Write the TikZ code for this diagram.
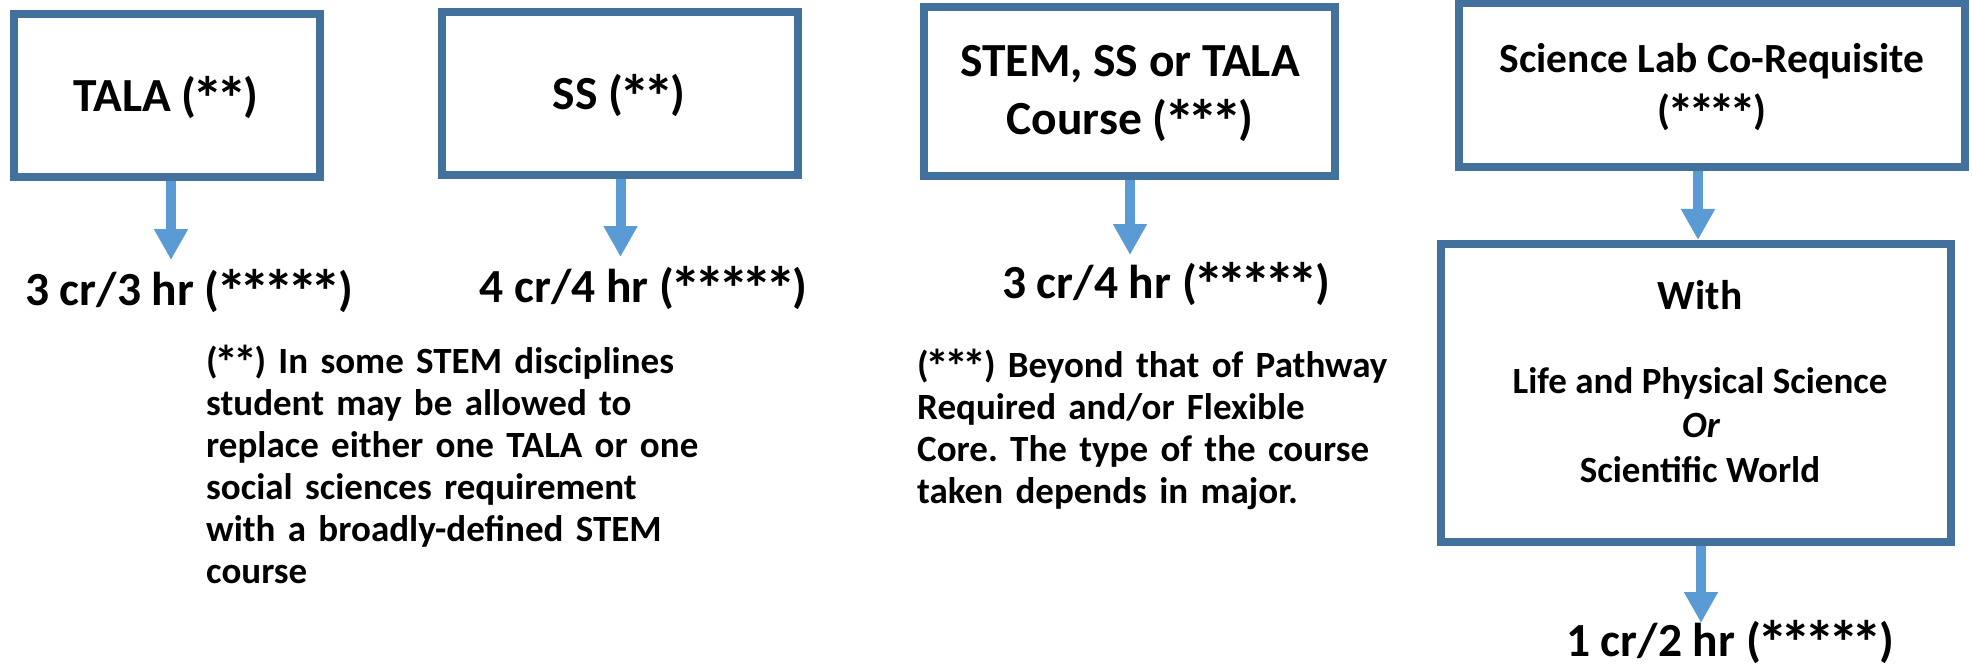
\documentclass[tikz,border=0pt]{standalone}
\usepackage{fontspec}
\usepackage{graphicx}
\setmainfont{Carlito}
\usetikzlibrary{arrows.meta}
\definecolor{boxblue}{HTML}{41719C}
\definecolor{arrowblue}{HTML}{5B9BD5}
\newcommand{\sk}{\makebox[0.498em]{\raisebox{-0.17em}{\scalebox{1.3}{*}}}}
\frenchspacing
\begin{document}
\begin{tikzpicture}[x=1pt,y=-1pt,
  boxshape/.style={draw=boxblue, line width=8pt, fill=white, inner sep=0pt},
  bigtxt/.style={font=\fontsize{47.5}{58}\selectfont\bfseries, inner sep=0pt, anchor=base},
  midtxt/.style={font=\fontsize{41.5}{52}\selectfont\bfseries, inner sep=0pt, anchor=base},
  smalltxt/.style={font=\fontsize{37}{42}\selectfont\bfseries, inner sep=0pt, anchor=base},
  notetxt/.style={font=\fontsize{37}{42}\selectfont\bfseries, inner sep=0pt, anchor=base west, text width=560pt, align=left},
  arr/.style={draw=arrowblue, line width=10pt, -{Triangle[length=31pt,width=32pt]}}]
\useasboundingbox (0,0) rectangle (1972,671);

% boxes
\node[boxshape, minimum width=306pt, minimum height=163pt] (b1) at (167,95.5) {};
\node[boxshape, minimum width=356pt, minimum height=163pt] (b2) at (620,93.5) {};
\node[boxshape, minimum width=411pt, minimum height=169pt] (b3) at (1129.5,91.5) {};
\node[boxshape, minimum width=506pt, minimum height=164pt] (b4) at (1712,85) {};
\node[boxshape, minimum width=510pt, minimum height=298pt] (b5) at (1696,393) {};

% box texts
\node[bigtxt] (t1) at (166,112) {TALA (\sk\sk)};
\node[bigtxt] (t2) at (619,110) {SS (\sk\sk)};
\node[bigtxt] (t3a) at (1130,77) {STEM, SS or TALA};
\node[bigtxt] (t3b) at (1130,135) {Course (\sk\sk\sk)};
\node[midtxt] (t4a) at (1712,73) {Science Lab Co-Requisite};
\node[midtxt] (t4b) at (1712,125) {(\sk\sk\sk\sk)};
\node[midtxt] (w1) at (1700,309) {With};
\node[smalltxt] (w2) at (1700,393) {Life and Physical Science};
\node[smalltxt] (w3) at (1701,437) {\itshape Or};
\node[smalltxt] (w4) at (1700,482) {Scientific World};

% credit labels
\node[bigtxt] (c1) at (189,305) {3 cr/3 hr (\sk\sk\sk\sk\sk)};
\node[bigtxt] (c2) at (643.5,302) {4 cr/4 hr (\sk\sk\sk\sk\sk)};
\node[bigtxt] (c3) at (1166,298) {3 cr/4 hr (\sk\sk\sk\sk\sk)};
\node[bigtxt] (c4) at (1730,656) {1 cr/2 hr (\sk\sk\sk\sk\sk)};

% footnotes
\node[notetxt] (fn2) at (206,373) {(\sk\sk) In some STEM disciplines\\
student may be allowed to\\
replace either one TALA or one\\
social sciences requirement\\
with a broadly-defined STEM\\
course};
\node[notetxt] (fn3) at (917,377) {(\sk\sk\sk) Beyond that of Pathway\\
Required and/or Flexible\\
Core. The type of the course\\
taken depends in major.};

% arrows
\coordinate (p1) at (171,260);
\coordinate (p2) at (620.5,257);
\coordinate (p3) at (1130,255);
\coordinate (x4) at (1698,0);
\coordinate (p5) at (1701,623);
\draw[arr] (b1.south -| p1) -- (p1);
\draw[arr] (b2.south -| p2) -- (p2);
\draw[arr] (b3.south -| p3) -- (p3);
\draw[arr] (b4.south -| x4) -- (b5.north -| x4);
\draw[arr] (b5.south -| p5) -- (p5);
\end{tikzpicture}
\end{document}
